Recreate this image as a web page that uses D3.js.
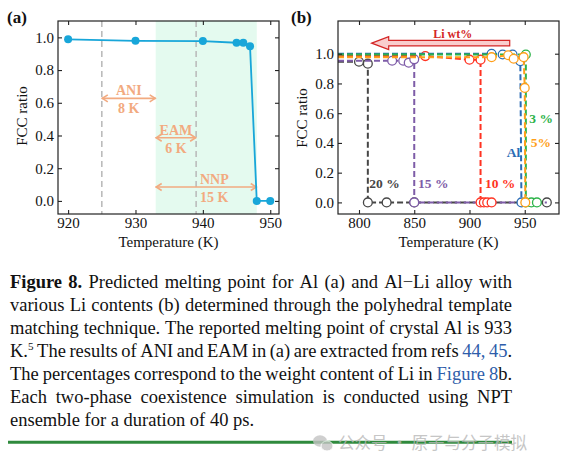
<!DOCTYPE html>
<html><head><meta charset="utf-8">
<script src="https://cdn.jsdelivr.net/npm/d3@7"></script>
<style>body{margin:0;background:#fff}svg{display:block}</style>
</head><body>
<svg id="c" width="571" height="467"></svg>
<script>
// ---------- data: panel (a) ----------
const aTemps = [920, 930, 940, 945, 946, 947, 948, 950];
const aRatio = [0.988, 0.979, 0.977, 0.967, 0.967, 0.945, 0.0, 0.0];
const aXTicks = [920, 930, 940, 950];
const yTicks = [0, 0.2, 0.4, 0.6, 0.8, 1.0];
const aDashedTemps = [925, 939];
const aBand = [933, 948];
const aRangeNames = ["ANI", "EAM", "NNP"];
const aRangeWidths = ["8 K", "6 K", "15 K"];
const aRangeFrom = [925, 933, 933];
const aRangeTo = [933, 939, 948];
const aRangeLevel = [0.627, 0.386, 0.085];
const aRangeTextT = [929, 936, 941.7];

// ---------- data: panel (b) ----------
const bXTicks = [800, 850, 900, 950];
const bNames = ["20 %", "15 %", "10 %", "Al", "3 %", "5%"];
const bColors = ["#464646", "#7E5CA8", "#FF3322", "#2B6CB5", "#2DB34A", "#FF9F1A"];
const bTemps = [
  [800, 808, 808, 825, 850, 970],
  [830, 840, 845, 850, 850],
  [860, 900, 910, 910, 913, 916, 920],
  [920, 930, 939, 946, 947],
  [951, 951, 956, 961],
  [920, 935, 940, 949, 950, 950.5]
];
const bValues = [
  [0.946, 0.933, 0, 0, 0, 0],
  [0.953, 0.953, 0.94, 0.962, 0],
  [0.984, 0.96, 0.96, 0, 0, 0, 0],
  [1.0, 0.995, 0.995, 0.95, 0],
  [0.995, 0, 0, 0],
  [0.977, 0.99, 0.966, 0.977, 0.77, 0]
];
const bTailTo = [null, 970, null, null, null, null];
const bLabelT = [809.3, 853.4, 914, 933.7, 954.1, 955.4];
const bLabelV = [0.099, 0.099, 0.099, 0.307, 0.532, 0.375];
const liArrowFrom = 936.4, liArrowTo = 811.5, liArrowLevel = 1.071;
const liText = "Li wt%";

// ---------- caption ----------
const captionLines = [
  "[Figure] [8.] Predicted melting point for Al (a) and Al−Li alloy with",
  "various Li contents (b) determined through the polyhedral template",
  "matching technique. The reported melting point of crystal Al is 933",
  "K.^5 The results of ANI and EAM in (a) are extracted from refs {44,} {45}.",
  "The percentages correspond to the weight content of Li in {Figure} {8}b.",
  "Each two-phase coexistence simulation is conducted using NPT",
  "ensemble for a duration of 40 ps."
];
const watermark = "公众号 · 原子与分子模拟";

const serif = "'Liberation Serif','Times New Roman',serif";
const svg = d3.select("#c");

function frame(g, x, y, xt, yt) {
  const [x0, x1] = x.range(), [y0, y1] = y.range();
  g.append("g").attr("transform", `translate(0,${y0})`)
    .call(d3.axisBottom(x).tickValues(xt).tickFormat(d3.format("d")).tickSizeInner(-4).tickSizeOuter(0).tickPadding(3));
  g.append("g").attr("transform", `translate(0,${y1})`)
    .call(d3.axisTop(x).tickValues(xt).tickFormat("").tickSizeInner(-4).tickSizeOuter(0));
  g.append("g").attr("transform", `translate(${x0},0)`)
    .call(d3.axisLeft(y).tickValues(yTicks).tickFormat(d3.format(".1f")).tickSizeInner(-4).tickSizeOuter(0).tickPadding(4));
  g.append("g").attr("transform", `translate(${x1},0)`)
    .call(d3.axisRight(y).tickValues(yTicks).tickFormat("").tickSizeInner(-4).tickSizeOuter(0));
  g.selectAll(".domain").remove();
  g.selectAll(".tick line").attr("stroke", "#222").attr("stroke-width", 1.1);
  g.selectAll(".tick text").attr("font-family", serif).attr("font-size", 15).attr("fill", "#111");
  g.append("rect").attr("x", x0).attr("y", y1).attr("width", x1 - x0).attr("height", y0 - y1)
    .attr("fill", "none").attr("stroke", "#222").attr("stroke-width", 1.2);
  g.append("text").attr("x", (x0 + x1) / 2).attr("y", y0 + 33).attr("text-anchor", "middle")
    .attr("font-family", serif).attr("font-size", 15).attr("fill", "#111").text("Temperature (K)");
}
function yTitle(g, cx, cy) {
  g.append("text").attr("transform", `translate(${cx},${cy}) rotate(-90)`).attr("text-anchor", "middle")
    .attr("font-family", serif).attr("font-size", 15).attr("fill", "#111").text("FCC ratio");
}

// ---------- panel (a) ----------
const ga = svg.append("g");
const ax = d3.scaleLinear().domain([918.5, 951.3]).range([58, 279]);
const ay = d3.scaleLinear().domain([-0.08, 1.1]).range([214, 21]);
ga.append("rect").attr("x", ax(aBand[0])).attr("y", ay(1.1)).attr("width", ax(aBand[1]) - ax(aBand[0]))
  .attr("height", ay(-0.08) - ay(1.1)).attr("fill", "#E4FAEF");
ga.selectAll(".vd").data(aDashedTemps).join("line")
  .attr("x1", d => ax(d)).attr("x2", d => ax(d)).attr("y1", ay(1.1)).attr("y2", ay(-0.08))
  .attr("stroke", "#BBBBBB").attr("stroke-width", 1.6).attr("stroke-dasharray", "6,4");
const annCol = "#F2AA80";
aRangeNames.forEach((n, i) => {
  const x1 = ax(aRangeFrom[i]), x2 = ax(aRangeTo[i]), y = ay(aRangeLevel[i]);
  ga.append("line").attr("x1", x1).attr("x2", x2).attr("y1", y).attr("y2", y)
    .attr("stroke", annCol).attr("stroke-width", 1.6);
  ga.append("path").attr("d", `M${x1 + 6},${y - 3.5}L${x1 + 0.5},${y}L${x1 + 6},${y + 3.5}M${x2 - 6},${y - 3.5}L${x2 - 0.5},${y}L${x2 - 6},${y + 3.5}`)
    .attr("fill", "none").attr("stroke", annCol).attr("stroke-width", 1.6);
  const tx = ax(aRangeTextT[i]);
  ga.append("text").attr("x", tx).attr("y", y - 3.2).attr("text-anchor", "middle").attr("font-family", serif)
    .attr("font-weight", "bold").attr("font-size", 14).attr("fill", annCol).text(n);
  ga.append("text").attr("x", tx).attr("y", y + 15).attr("text-anchor", "middle").attr("font-family", serif)
    .attr("font-weight", "bold").attr("font-size", 14).attr("fill", annCol).text(aRangeWidths[i]);
});
const aPts = aTemps.map((t, i) => [t, aRatio[i]]);
ga.append("path").datum(aPts).attr("d", d3.line().x(d => ax(d[0])).y(d => ay(d[1])))
  .attr("fill", "none").attr("stroke", "#18A6D9").attr("stroke-width", 1.8);
ga.selectAll(".pa").data(aPts).join("circle").attr("cx", d => ax(d[0])).attr("cy", d => ay(d[1]))
  .attr("r", 4).attr("fill", "#18A6D9");
frame(ga, ax, ay, aXTicks, yTicks);
yTitle(ga, 27, 116);
ga.append("text").attr("x", 7).attr("y", 23).attr("font-family", serif).attr("font-weight", "bold")
  .attr("font-size", 17).attr("fill", "#111").text("(a)");

// ---------- panel (b) ----------
const gb = svg.append("g");
const bx = d3.scaleLinear().domain([781, 981]).range([338, 559]);
const by = d3.scaleLinear().domain([-0.078, 1.22]).range([214, 21]);
const bline = d3.line().x(d => bx(d[0])).y(d => by(d[1]));
bNames.forEach((n, i) => {
  const pts = bTemps[i].map((t, j) => [t, bValues[i][j]]);
  const lp = [[bx.domain()[0], pts[0][1]], ...pts];
  if (bTailTo[i] !== null) lp.push([bTailTo[i], pts[pts.length - 1][1]]);
  gb.append("path").datum(lp).attr("d", bline).attr("fill", "none").attr("stroke", bColors[i])
    .attr("stroke-width", 2).attr("stroke-dasharray", "6,3");
  gb.selectAll(".p" + i).data(pts).join("circle").attr("cx", d => bx(d[0])).attr("cy", d => by(d[1]))
    .attr("r", 4.4).attr("fill", "#fff").attr("stroke", bColors[i]).attr("stroke-width", 1.3);
});
bNames.forEach((n, i) => {
  gb.append("text").attr("x", bx(bLabelT[i])).attr("y", by(bLabelV[i])).attr("font-family", serif)
    .attr("font-weight", "bold").attr("font-size", 13.5).attr("fill", bColors[i]).text(n);
});
{
  const tip = bx(liArrowTo), tail = bx(liArrowFrom), yc = by(liArrowLevel);
  const hl = 17, hh = 6.5, sh = 2.8;
  gb.append("path").attr("d", `M${tip},${yc}L${tip + hl},${yc - hh}L${tip + hl},${yc - sh}L${tail},${yc - sh}L${tail},${yc + sh}L${tip + hl},${yc + sh}L${tip + hl},${yc + hh}Z`)
    .attr("fill", "#F9CDCD").attr("stroke", "#D42626").attr("stroke-width", 1.2);
  gb.append("text").attr("x", bx((liArrowFrom + liArrowTo) / 2) + 12).attr("y", yc - 5.5).attr("text-anchor", "middle")
    .attr("font-family", serif).attr("font-weight", "bold").attr("font-size", 12).attr("fill", "#D42626").text(liText);
}
frame(gb, bx, by, bXTicks, yTicks);
yTitle(gb, 307, 118);
gb.append("text").attr("x", 291).attr("y", 23).attr("font-family", serif).attr("font-weight", "bold")
  .attr("font-size", 17).attr("fill", "#111").text("(b)");

// ---------- caption ----------
const capX0 = 10, capX1 = 512, capY0 = 287.5, capLH = 23.05, capSize = 18.5;
const linkCol = "#2E5DAA";
function parseWord(w) {
  const re = /\{([^}]*)\}|\[([^\]]*)\]|\^(\S+)|([^{\[\^]+)/g;
  const segs = []; let m;
  while ((m = re.exec(w)) !== null) {
    if (m[1] !== undefined) segs.push({ t: m[1], s: "link" });
    else if (m[2] !== undefined) segs.push({ t: m[2], s: "bold" });
    else if (m[3] !== undefined) segs.push({ t: m[3], s: "sup" });
    else segs.push({ t: m[4], s: "" });
  }
  return segs;
}
const gc = svg.append("g").attr("font-family", serif).attr("fill", "#111");
captionLines.forEach((line, li) => {
  const y = capY0 + li * capLH;
  const words = line.split(" ");
  const groups = words.map(w => {
    const g = gc.append("g");
    let x = 0;
    parseWord(w).forEach(sg => {
      const t = g.append("text").attr("x", x).attr("y", sg.s === "sup" ? -7 : 0)
        .attr("font-size", sg.s === "sup" ? capSize * 0.6 : capSize).text(sg.t);
      if (sg.s === "bold") t.attr("font-weight", "bold");
      if (sg.s === "link") t.attr("fill", linkCol);
      x += t.node().getComputedTextLength();
    });
    return { g, w: x };
  });
  const total = d3.sum(groups, d => d.w);
  const last = li === captionLines.length - 1;
  const gap = last ? capSize * 0.25 : (capX1 - capX0 - total) / (groups.length - 1);
  let x = capX0;
  groups.forEach(o => { o.g.attr("transform", `translate(${x},${y})`); x += o.w + gap; });
});
svg.append("line").attr("x1", 8).attr("x2", 512).attr("y1", 442.3).attr("y2", 442.3)
  .attr("stroke", "#2F8A3D").attr("stroke-width", 3);
// watermark
const wm = svg.append("g").attr("opacity", 0.8);
wm.append("ellipse").attr("cx", 320).attr("cy", 441).attr("rx", 7).attr("ry", 5.8).attr("fill", "#c4c4c4");
wm.append("ellipse").attr("cx", 327).attr("cy", 446).attr("rx", 6).attr("ry", 5).attr("fill", "#c4c4c4").attr("stroke", "#fff").attr("stroke-width", 1);
wm.append("text").attr("x", 338).attr("y", 449).attr("font-family", "'Noto Sans CJK SC',sans-serif")
  .attr("font-size", 16.5).attr("fill", "#b8b8b8").text(watermark);
</script>
</body></html>
